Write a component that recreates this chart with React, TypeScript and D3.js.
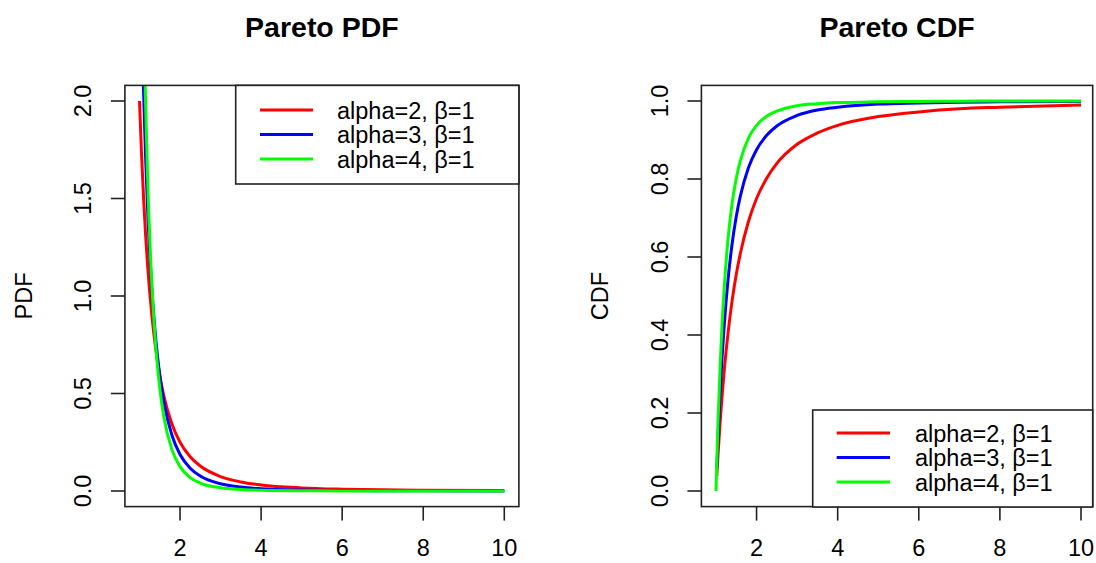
import React from "react";
import * as d3 from "d3";

// Sample x positions
const xs = [1, 1.05, 1.1, 1.15, 1.2, 1.3, 1.4, 1.5, 1.6, 1.8, 2, 2.25, 2.5, 3, 3.5, 4, 5, 6, 7, 8, 10];

// PDF values (estimated from the curves)
const pdfAlpha2 = [2, 1.728, 1.503, 1.315, 1.157, 0.91, 0.729, 0.593, 0.488, 0.343, 0.25, 0.176, 0.128, 0.074, 0.0466, 0.031, 0.016, 0.0093, 0.0058, 0.0039, 0.002];
const pdfAlpha3 = [3, 2.468, 2.049, 1.715, 1.447, 1.05, 0.781, 0.593, 0.458, 0.286, 0.1875, 0.117, 0.077, 0.037, 0.02, 0.0117, 0.0048, 0.0023, 0.0012, 0.0007, 0.0003];
const pdfAlpha4 = [4, 3.134, 2.484, 1.989, 1.608, 1.077, 0.744, 0.527, 0.381, 0.212, 0.125, 0.069, 0.041, 0.0165, 0.0076, 0.0039, 0.0013, 0.0005, 0.0002, 0.0001, 0.00004];

// CDF values (estimated from the curves)
const cdfX = [1.02, 1.05, 1.1, 1.15, 1.2, 1.3, 1.4, 1.5, 1.6, 1.8, 2, 2.25, 2.5, 3, 3.5, 4, 5, 6, 7, 8, 10];
const cdfAlpha2 = [0.039, 0.093, 0.174, 0.244, 0.306, 0.408, 0.49, 0.556, 0.609, 0.691, 0.75, 0.802, 0.84, 0.889, 0.918, 0.9375, 0.96, 0.972, 0.98, 0.984, 0.99];
const cdfAlpha3 = [0.058, 0.136, 0.249, 0.343, 0.421, 0.545, 0.636, 0.704, 0.756, 0.829, 0.875, 0.912, 0.936, 0.963, 0.977, 0.984, 0.992, 0.995, 0.997, 0.998, 0.999];
const cdfXGreen = [1, 1.05, 1.1, 1.15, 1.2, 1.3, 1.4, 1.5, 1.6, 1.8, 2, 2.25, 2.5, 3, 3.5, 4, 5, 6, 7, 8, 10];
const cdfAlpha4 = [0, 0.177, 0.317, 0.428, 0.518, 0.65, 0.74, 0.802, 0.847, 0.905, 0.9375, 0.961, 0.974, 0.988, 0.993, 0.996, 0.998, 0.999, 0.9996, 0.9998, 0.9999];

const xTicks = [2, 4, 6, 8, 10];
const pdfTicks = [0, 0.5, 1, 1.5, 2];
const cdfTicks = [0, 0.2, 0.4, 0.6, 0.8, 1];
const legendLabels = ["alpha=2, \u03b2=1", "alpha=3, \u03b2=1", "alpha=4, \u03b2=1"];
const colors = ["#ff0000", "#0000ff", "#00ff00"];

const FONT = "'Liberation Sans', Arial, sans-serif";
const FS = 23.5;
const AXIS = "#222";

type Series = { x: number[]; y: number[]; color: string };

function Panel(props: {
  id: string;
  left: number;
  right: number;
  top: number;
  bottom: number;
  boxRight?: number;
  xDomain: [number, number];
  yDomain: [number, number];
  yTicks: number[];
  yFmt: (v: number) => string;
  title: string;
  ylabel: string;
  series: Series[];
  legend: { x0: number; y0: number; y1: number; lineX0: number; lineX1: number; textX: number; rows: number[] };
}) {
  const { id, left, right, top, bottom, series, legend } = props;
  const x = d3.scaleLinear().domain(props.xDomain).range([left, right]);
  const y = d3.scaleLinear().domain(props.yDomain).range([bottom, top]);
  const xPad = (props.xDomain[1] - props.xDomain[0]) * 0.04;
  const plotLeft = x(props.xDomain[0] - xPad);
  const plotRight = props.boxRight ?? x(props.xDomain[1] + xPad);
  const yPad = (props.yDomain[1] - props.yDomain[0]) * 0.04;
  const plotTop = y(props.yDomain[1] + yPad);
  const plotBottom = y(props.yDomain[0] - yPad);
  const line = d3
    .line<[number, number]>()
    .x((d) => x(d[0]))
    .y((d) => y(d[1]))
    .curve(d3.curveMonotoneX);
  const cx = (plotLeft + plotRight) / 2;
  const cy = (plotTop + plotBottom) / 2;
  return (
    <g>
      <defs>
        <clipPath id={id}>
          <rect x={plotLeft} y={plotTop} width={plotRight - plotLeft} height={plotBottom - plotTop} />
        </clipPath>
      </defs>
      <text x={cx} y={37} textAnchor="middle" fontFamily={FONT} fontWeight="bold" fontSize={28.5} fill="#000">
        {props.title}
      </text>
      <g clipPath={`url(#${id})`}>
        {series.map((s, i) => (
          <path
            key={i}
            d={line(s.x.map((v, j) => [v, s.y[j]] as [number, number])) || ""}
            fill="none"
            stroke={s.color}
            strokeWidth={3}
          />
        ))}
      </g>
      <rect
        x={plotLeft}
        y={plotTop}
        width={plotRight - plotLeft}
        height={plotBottom - plotTop}
        fill="none"
        stroke={AXIS}
        strokeWidth={1.6}
      />
      {/* x axis */}
      {xTicks.map((t) => (
        <g key={t}>
          <line x1={x(t)} x2={x(t)} y1={plotBottom} y2={plotBottom + 14} stroke={AXIS} strokeWidth={1.6} />
          <text x={x(t)} y={556} textAnchor="middle" fontFamily={FONT} fontSize={FS} fill="#000">
            {t}
          </text>
        </g>
      ))}
      {/* y axis */}
      {props.yTicks.map((t) => (
        <g key={t}>
          <line x1={plotLeft - 14} x2={plotLeft} y1={y(t)} y2={y(t)} stroke={AXIS} strokeWidth={1.6} />
          <text
            transform={`translate(${plotLeft - 33.5},${y(t)}) rotate(-90)`}
            textAnchor="middle"
            fontFamily={FONT}
            fontSize={FS}
            fill="#000"
          >
            {props.yFmt(t)}
          </text>
        </g>
      ))}
      <text
        transform={`translate(${plotLeft - 93},${cy}) rotate(-90)`}
        textAnchor="middle"
        fontFamily={FONT}
        fontSize={FS}
        fill="#000"
      >
        {props.ylabel}
      </text>
      {/* legend */}
      <rect
        x={legend.x0}
        y={legend.y0}
        width={plotRight - legend.x0}
        height={legend.y1 - legend.y0}
        fill="#fff"
        stroke={AXIS}
        strokeWidth={1.6}
      />
      {legendLabels.map((lab, i) => (
        <g key={lab}>
          <line x1={legend.lineX0} x2={legend.lineX1} y1={legend.rows[i]} y2={legend.rows[i]} stroke={colors[i]} strokeWidth={3} />
          <text x={legend.textX} y={legend.rows[i] + 8.5} fontFamily={FONT} fontSize={FS} fill="#000">
            {lab}
          </text>
        </g>
      ))}
    </g>
  );
}

export default function App() {
  const pdfSeries: Series[] = [
    { x: xs, y: pdfAlpha2, color: colors[0] },
    { x: xs, y: pdfAlpha3, color: colors[1] },
    { x: xs, y: pdfAlpha4, color: colors[2] },
  ];
  const cdfSeries: Series[] = [
    { x: cdfX, y: cdfAlpha2, color: colors[0] },
    { x: cdfX, y: cdfAlpha3, color: colors[1] },
    { x: cdfXGreen, y: cdfAlpha4, color: colors[2] },
  ];
  return (
    <svg width={1096} height={563} style={{ position: "absolute", left: 0, top: 0, background: "#fff" }}>
      <rect width={1096} height={563} fill="#fff" />
      <Panel
        id="clipPdf"
        left={139.5}
        right={504.3}
        top={101}
        bottom={491}
        xDomain={[1, 10]}
        yDomain={[0, 2]}
        yTicks={pdfTicks}
        yFmt={(v) => d3.format(".1f")(v)}
        title="Pareto PDF"
        ylabel="PDF"
        series={pdfSeries}
        legend={{ x0: 235.7, y0: 85.4, y1: 184, lineX0: 260, lineX1: 313, textX: 337, rows: [110, 134.5, 159] }}
      />
      <Panel
        id="clipCdf"
        left={716}
        right={1081}
        top={101}
        bottom={491}
        boxRight={1092.7}
        xDomain={[1, 10]}
        yDomain={[0, 1]}
        yTicks={cdfTicks}
        yFmt={(v) => d3.format(".1f")(v)}
        title="Pareto CDF"
        ylabel="CDF"
        series={cdfSeries}
        legend={{ x0: 812.7, y0: 410, y1: 507, lineX0: 836.7, lineX1: 890, textX: 915, rows: [433, 457.5, 482] }}
      />
    </svg>
  );
}
